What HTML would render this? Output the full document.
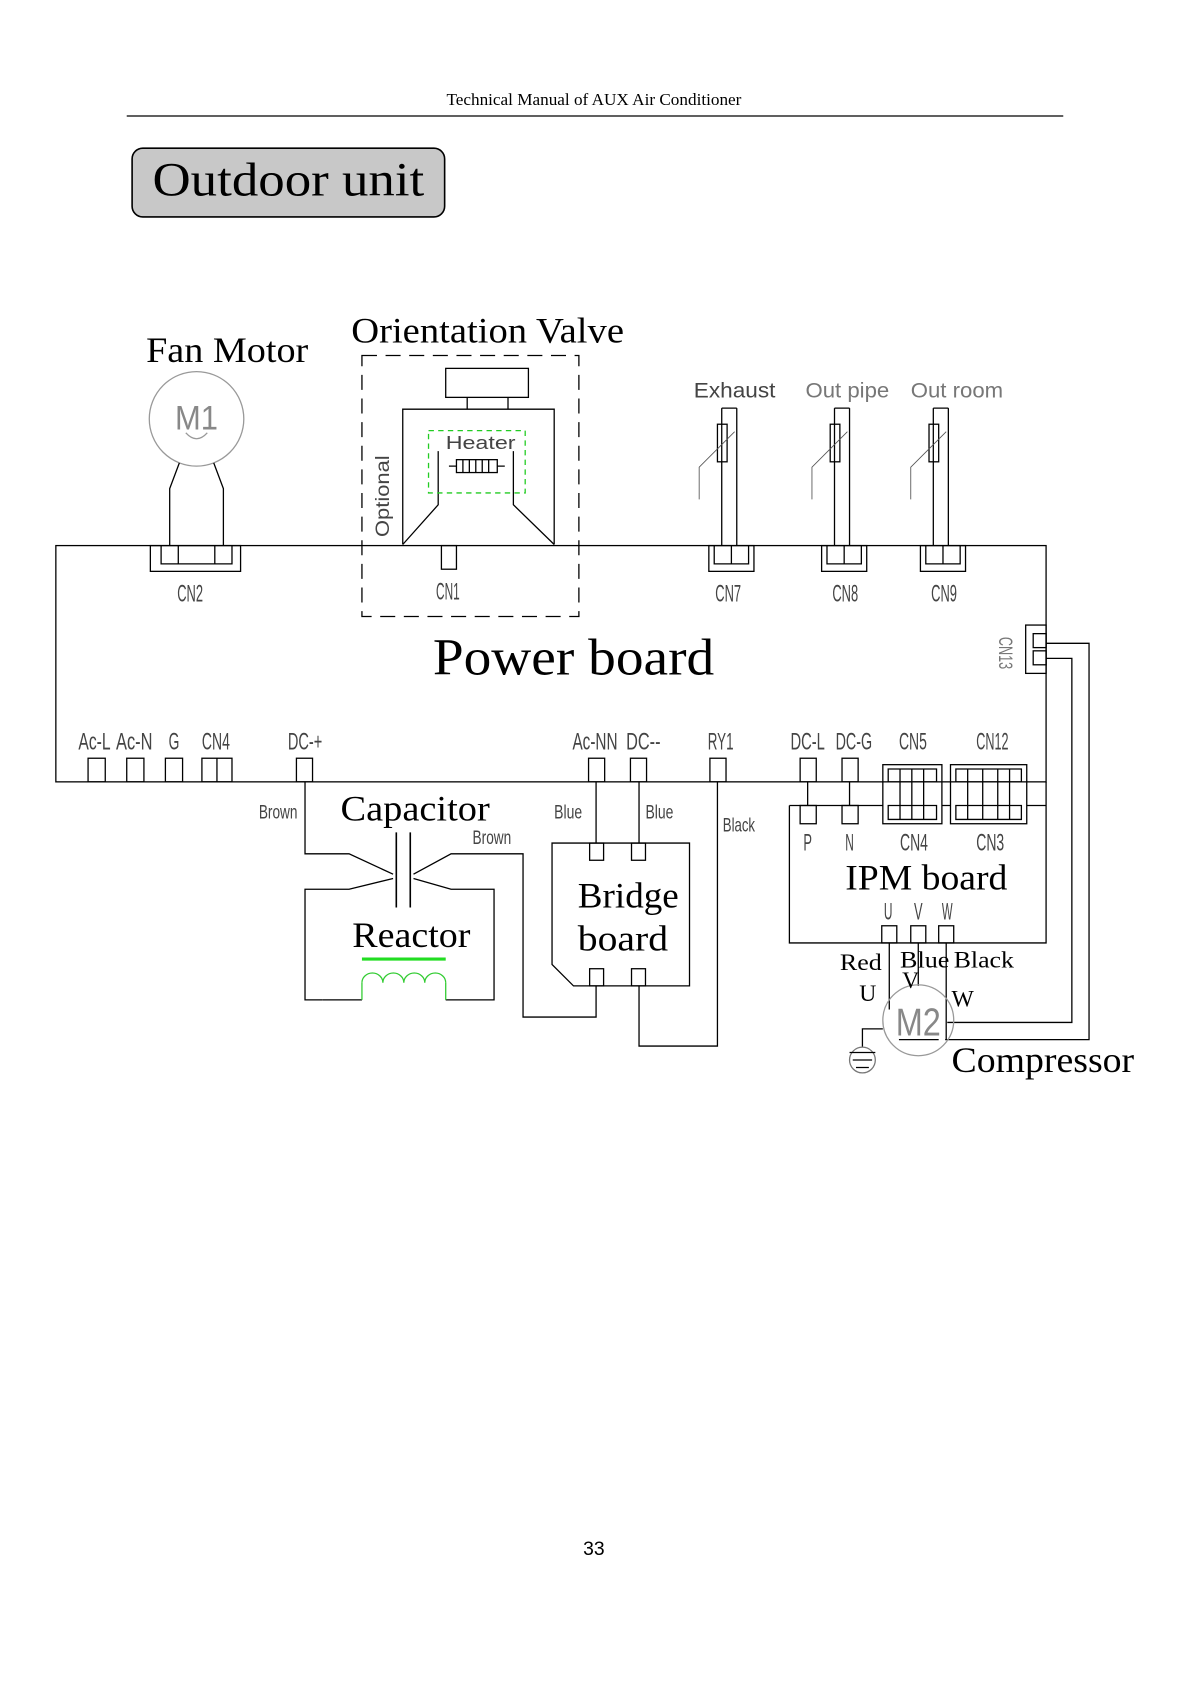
<!DOCTYPE html>
<html><head><meta charset="utf-8"><style>
html,body{margin:0;padding:0;background:#fff}
svg{display:block}
.s{font-family:"Liberation Serif",serif;fill:#000}
.n{font-family:"Liberation Sans",sans-serif;fill:#444;font-weight:normal}
.g{font-family:"Liberation Sans",sans-serif;fill:#888}
</style></head><body>
<svg width="1190" height="1684" viewBox="0 0 1108 1568" preserveAspectRatio="none" xmlns="http://www.w3.org/2000/svg">
<g fill="none" stroke="#000" stroke-width="1.2">
<line x1="118" y1="108" x2="990" y2="108"/>
<rect x="123" y="138" width="291" height="64" rx="10" fill="#c8c8c8" stroke-width="1.5"/>
<circle cx="183" cy="390" r="44" stroke="#999"/>
<path d="M167,431 L158,455 L158,508 M199,431 L208,455 L208,508"/>
<path d="M173,403 Q183,414 193,403" stroke="#999"/>
<rect x="337" y="331" width="202" height="243" stroke-dasharray="14,8"/>
<rect x="415" y="343" width="77" height="27"/>
<path d="M435,370 V381 M473,370 V381"/>
<path d="M375,507 V381 H516 V507"/>
<path d="M408,420 V470 L375,507 M478,420 V470 L516,507" />
<rect x="399" y="401" width="90" height="58" stroke="#2c2" stroke-dasharray="5,4"/>
<rect x="425" y="428" width="38" height="12"/>
<path d="M431,428v12M437,428v12M443,428v12M449,428v12M455,428v12M418,434h7M463,434h7"/>
<rect x="411" y="508" width="14" height="22"/>
<rect x="52" y="508" width="922" height="220"/>
<rect x="140" y="508" width="84" height="24"/>
<path d="M150,508 V525 H216 V508 M166,508 V525 M200,508 V525"/>
<g id="th">
<path d="M672,380 V508 M686,380 V508 M672,380 H686"/>
<rect x="668" y="395" width="9" height="35"/>
<path d="M651,465 V435 L684,402" stroke="#555" stroke-width="0.8"/>
<rect x="660" y="508" width="42" height="24"/>
<path d="M665,508 V525 H697 V508 M681,508 V525"/>
</g>
<use href="#th" x="105"/>
<use href="#th" x="197"/>
<rect x="955" y="582" width="19" height="45"/>
<rect x="962" y="590" width="12" height="13"/><rect x="962" y="606" width="12" height="13"/>
<path d="M974,599 H1014 V968 H880 M974,613 H998 V952 H882"/>
<rect x="82" y="706" width="16" height="22"/>
<rect x="118" y="706" width="16" height="22"/>
<rect x="154" y="706" width="16" height="22"/>
<rect x="188" y="706" width="28" height="22"/><path d="M202,706V728"/>
<rect x="276" y="706" width="15" height="22"/>
<rect x="548" y="706" width="15" height="22"/>
<rect x="587" y="706" width="15" height="22"/>
<rect x="661" y="706" width="15" height="22"/>
<rect x="745" y="706" width="15" height="22"/>
<rect x="784" y="706" width="15" height="22"/>
<rect x="822" y="712" width="55" height="55"/>
<path d="M827,716 V728 H872 V716 Z M838,716V750 M849,716V750 M860,716V750 M827,750 V763 H872 V750 Z M838,750V763 M849,750V763 M860,750V763 M838,728V750 M860,728V750"/>
<rect x="885" y="712" width="71" height="55"/>
<path d="M890,716 V728 H951 V716 Z M901,716V728 M915,716V728 M929,716V728 M940,716V728 M890,750 V763 H951 V750 Z M901,750V763 M915,750V763 M929,750V763 M940,750V763 M901,728V750 M915,728V750 M929,728V750 M940,728V750"/>
<path d="M284,728 V795 H325 L366,814 M366,818 L325,828 H284 V931 H300"/>
<path d="M369,775 V845 M382,775 V845" stroke-width="1.5"/>
<path d="M385,814 L420,795 H487 V947 H555 V918 M385,818 L420,828 H460 V931 H415 M337,931 H300" />
<path d="M337,931 V915 M415,931 V915" stroke="#3c3"/>
<path d="M337,915 a9.75,9 0 0 1 19.5,0 a9.75,9 0 0 1 19.5,0 a9.75,9 0 0 1 19.5,0 a9.75,9 0 0 1 19.5,0" stroke="#3c3"/>
<line x1="337" y1="893" x2="415" y2="893" stroke="#2d2" stroke-width="3"/>
<path d="M514,785 H642 V918 H534 L514,898 Z"/>
<rect x="549" y="785" width="13" height="16"/><rect x="588" y="785" width="13" height="16"/>
<rect x="549" y="902" width="13" height="16"/><rect x="588" y="902" width="13" height="16"/>
<path d="M555,728 V785 M595,728 V785 M595,918 V974 H668 V728"/>
<path d="M735,750 H822 M877,750 H885 M956,750 H974 M735,750 V878 H974 V728"/>
<rect x="745" y="750" width="15" height="17"/><rect x="784" y="750" width="15" height="17"/>
<path d="M752,728 V750 M791,728 V750"/>
<rect x="821" y="862" width="14" height="16"/><rect x="848" y="862" width="14" height="16"/><rect x="874" y="862" width="14" height="16"/>
<path d="M828,878 V940 M855,878 V918 M881,878 V968"/>
<circle cx="855" cy="950" r="33" stroke="#999"/>
<line x1="837" y1="968" x2="874" y2="968"/>
<path d="M822,958 H803 V975"/>
<circle cx="803" cy="987" r="12" stroke="#777"/>
<path d="M791,980 H815 M794,987 H812 M797,994 H809"/>
</g>
<text x="553" y="98" class="s" font-size="16" text-anchor="middle">Technical Manual of AUX Air Conditioner</text>
<text x="142" y="182" class="s" font-size="44" textLength="253" lengthAdjust="spacingAndGlyphs">Outdoor unit</text>
<text x="136" y="337" class="s" font-size="33" textLength="151" lengthAdjust="spacingAndGlyphs">Fan Motor</text>
<text x="327" y="319" class="s" font-size="33" textLength="254" lengthAdjust="spacingAndGlyphs">Orientation Valve</text>
<text x="403" y="628" class="s" font-size="48" textLength="262" lengthAdjust="spacingAndGlyphs">Power board</text>
<text x="317" y="764" class="s" font-size="33" textLength="139" lengthAdjust="spacingAndGlyphs">Capacitor</text>
<text x="328" y="882" class="s" font-size="33" textLength="110" lengthAdjust="spacingAndGlyphs">Reactor</text>
<text x="538" y="845" class="s" font-size="33" textLength="94" lengthAdjust="spacingAndGlyphs">Bridge</text>
<text x="538" y="885" class="s" font-size="33" textLength="84" lengthAdjust="spacingAndGlyphs">board</text>
<text x="787" y="828" class="s" font-size="33" textLength="151" lengthAdjust="spacingAndGlyphs">IPM board</text>
<text x="886" y="998" class="s" font-size="33" textLength="170" lengthAdjust="spacingAndGlyphs">Compressor</text>
<text x="782" y="903" class="s" font-size="22" textLength="39" lengthAdjust="spacingAndGlyphs">Red</text>
<text x="800" y="932" class="s" font-size="22">U</text>
<text x="838" y="901" class="s" font-size="22" textLength="46" lengthAdjust="spacingAndGlyphs">Blue</text>
<text x="840" y="920" class="s" font-size="22">V</text>
<text x="888" y="901" class="s" font-size="22" textLength="56" lengthAdjust="spacingAndGlyphs">Black</text>
<text x="886" y="937" class="s" font-size="22">W</text>
<text x="553" y="1448" font-family="Liberation Sans,sans-serif" font-size="18" text-anchor="middle">33</text>
<text x="183" y="400" class="g" font-size="32" text-anchor="middle" textLength="40" lengthAdjust="spacingAndGlyphs">M1</text>
<text x="855" y="964" class="g" font-size="36" text-anchor="middle" textLength="42" lengthAdjust="spacingAndGlyphs">M2</text>
<g class="n" font-size="20">
<text x="646" y="370" textLength="76" lengthAdjust="spacingAndGlyphs">Exhaust</text>
<text x="750" y="370" textLength="78" lengthAdjust="spacingAndGlyphs" fill="#777">Out pipe</text>
<text x="848" y="370" textLength="86" lengthAdjust="spacingAndGlyphs" fill="#777">Out room</text>
<text x="415" y="418" font-size="17" textLength="65" lengthAdjust="spacingAndGlyphs">Heater</text>
<text transform="translate(362,500) rotate(-90)" font-size="18" textLength="76" lengthAdjust="spacingAndGlyphs">Optional</text>
<text transform="translate(930,593) rotate(90)" font-size="18" fill="#777" textLength="30" lengthAdjust="spacingAndGlyphs">CN13</text>
</g>
<g class="n" font-size="22" fill="#777" text-anchor="middle">
<text x="177" y="560" textLength="24" lengthAdjust="spacingAndGlyphs">CN2</text>
<text x="417" y="558" textLength="22" lengthAdjust="spacingAndGlyphs">CN1</text>
<text x="678" y="560" textLength="24" lengthAdjust="spacingAndGlyphs">CN7</text>
<text x="787" y="560" textLength="24" lengthAdjust="spacingAndGlyphs">CN8</text>
<text x="879" y="560" textLength="24" lengthAdjust="spacingAndGlyphs">CN9</text>
<text x="88" y="698" textLength="30" lengthAdjust="spacingAndGlyphs">Ac-L</text>
<text x="125" y="698" textLength="34" lengthAdjust="spacingAndGlyphs">Ac-N</text>
<text x="162" y="698" textLength="10" lengthAdjust="spacingAndGlyphs">G</text>
<text x="201" y="698" textLength="26" lengthAdjust="spacingAndGlyphs">CN4</text>
<text x="284" y="698" textLength="32" lengthAdjust="spacingAndGlyphs">DC-+</text>
<text x="554" y="698" textLength="42" lengthAdjust="spacingAndGlyphs">Ac-NN</text>
<text x="599" y="698" textLength="32" lengthAdjust="spacingAndGlyphs">DC--</text>
<text x="671" y="698" textLength="24" lengthAdjust="spacingAndGlyphs">RY1</text>
<text x="752" y="698" textLength="32" lengthAdjust="spacingAndGlyphs">DC-L</text>
<text x="795" y="698" textLength="34" lengthAdjust="spacingAndGlyphs">DC-G</text>
<text x="850" y="698" textLength="26" lengthAdjust="spacingAndGlyphs">CN5</text>
<text x="924" y="698" textLength="30" lengthAdjust="spacingAndGlyphs">CN12</text>
<text x="752" y="792" textLength="8" lengthAdjust="spacingAndGlyphs">P</text>
<text x="791" y="792" textLength="8" lengthAdjust="spacingAndGlyphs">N</text>
<text x="851" y="792" textLength="26" lengthAdjust="spacingAndGlyphs">CN4</text>
<text x="922" y="792" textLength="26" lengthAdjust="spacingAndGlyphs">CN3</text>
<text x="827" y="856" textLength="8" lengthAdjust="spacingAndGlyphs">U</text>
<text x="855" y="856" textLength="8" lengthAdjust="spacingAndGlyphs">V</text>
<text x="882" y="856" textLength="10" lengthAdjust="spacingAndGlyphs">W</text>
<text x="259" y="762" font-size="18" textLength="36" lengthAdjust="spacingAndGlyphs">Brown</text>
<text x="458" y="786" font-size="18" textLength="36" lengthAdjust="spacingAndGlyphs">Brown</text>
<text x="529" y="762" font-size="18" textLength="26" lengthAdjust="spacingAndGlyphs">Blue</text>
<text x="614" y="762" font-size="18" textLength="26" lengthAdjust="spacingAndGlyphs">Blue</text>
<text x="688" y="774" font-size="18" textLength="30" lengthAdjust="spacingAndGlyphs">Black</text>
</g>
</svg>
</body></html>
